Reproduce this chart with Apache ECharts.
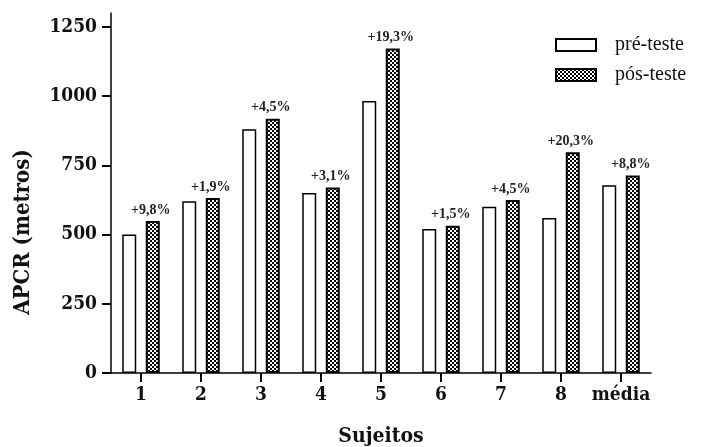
<!DOCTYPE html>
<html>
<head>
<meta charset="utf-8">
<script src="https://cdn.jsdelivr.net/npm/echarts@6/dist/echarts.min.js"></script>
<style>
html,body{margin:0;padding:0;background:#fff;}
#chart{width:706px;height:447px;}
</style>
</head>
<body>
<div id="chart"></div>
<script>
var categories = ['1', '2', '3', '4', '5', '6', '7', '8', 'média'];
var preTeste = [500, 620, 880, 650, 982, 520, 600, 560, 678];
var posTeste = [549, 632, 918, 670, 1172, 532, 625, 797, 713];
var gainLabels = ['+9,8%', '+1,9%', '+4,5%', '+3,1%', '+19,3%', '+1,5%', '+4,5%', '+20,3%', '+8,8%'];
var yTicks = [0, 250, 500, 750, 1000, 1250];

var FONT = '"DejaVu Serif Condensed", "Liberation Serif", serif';
var FONT2 = '"Liberation Serif", "Times New Roman", serif';

var pc = document.createElement('canvas');
pc.width = 4; pc.height = 4;
var ctx = pc.getContext('2d');
ctx.fillStyle = '#000'; ctx.fillRect(0, 0, 4, 4);
ctx.fillStyle = '#fff'; ctx.fillRect(0, 0, 2, 2); ctx.fillRect(2, 2, 2, 2);

var chart = echarts.init(document.getElementById('chart'), null, {renderer: 'canvas'});
chart.setOption({
  animation: false,
  backgroundColor: '#fff',
  grid: {left: 111, top: 13, width: 540, height: 360, containLabel: false, outerBoundsMode: 'none'},
  legend: {
    orient: 'vertical', left: 555, top: 35, padding: 0,
    itemWidth: 40, itemHeight: 12, itemGap: 10, icon: 'rect',
    textStyle: {fontFamily: FONT2, fontSize: 20, color: '#111', padding: [0, 0, 0, 14]},
    data: ['pré-teste', 'pós-teste']
  },
  xAxis: {
    type: 'category', data: categories,
    name: 'Sujeitos', nameLocation: 'middle', nameGap: 53,
    nameTextStyle: {fontFamily: FONT, fontSize: 21, fontWeight: 'bold', color: '#111'},
    axisLine: {show: true, lineStyle: {color: '#000', width: 1.5}},
    axisTick: {show: true, alignWithLabel: true, interval: 0, length: 9, lineStyle: {color: '#000', width: 2}},
    axisLabel: {interval: 0, fontFamily: FONT, fontSize: 19, fontWeight: 'bold', color: '#111', margin: 13}
  },
  yAxis: {
    type: 'value', min: 0, max: 1300, interval: 250,
    axisLine: {show: true, lineStyle: {color: '#000', width: 1.5}},
    axisTick: {show: true, length: 9, lineStyle: {color: '#000', width: 2}, customValues: yTicks},
    axisLabel: {fontFamily: FONT, fontSize: 19, fontWeight: 'bold', color: '#111', margin: 14,
      customValues: yTicks, formatter: function (v) { return String(v); }},
    splitLine: {show: false}
  },
  graphic: [{
    type: 'text', x: 23, y: 232, rotation: Math.PI / 2,
    style: {text: 'APCR (metros)', fontFamily: FONT, fontSize: 22, fontWeight: 'bold', fill: '#111', align: 'center', verticalAlign: 'middle'}
  }],
  series: [{
    name: 'pré-teste', type: 'bar', data: preTeste,
    barWidth: 14, barGap: '68%',
    itemStyle: {color: '#fff', borderColor: '#000', borderWidth: 1.5}
  }, {
    name: 'pós-teste', type: 'bar', data: posTeste,
    barWidth: 14,
    itemStyle: {color: {image: pc, repeat: 'repeat'}, borderColor: '#000', borderWidth: 2},
    label: {
      show: true, position: 'top', distance: 4, offset: [-2, 0],
      fontFamily: FONT2, fontSize: 14, fontWeight: 'bold', color: '#222',
      formatter: function (p) { return gainLabels[p.dataIndex]; }
    }
  }]
});
</script>
</body>
</html>
